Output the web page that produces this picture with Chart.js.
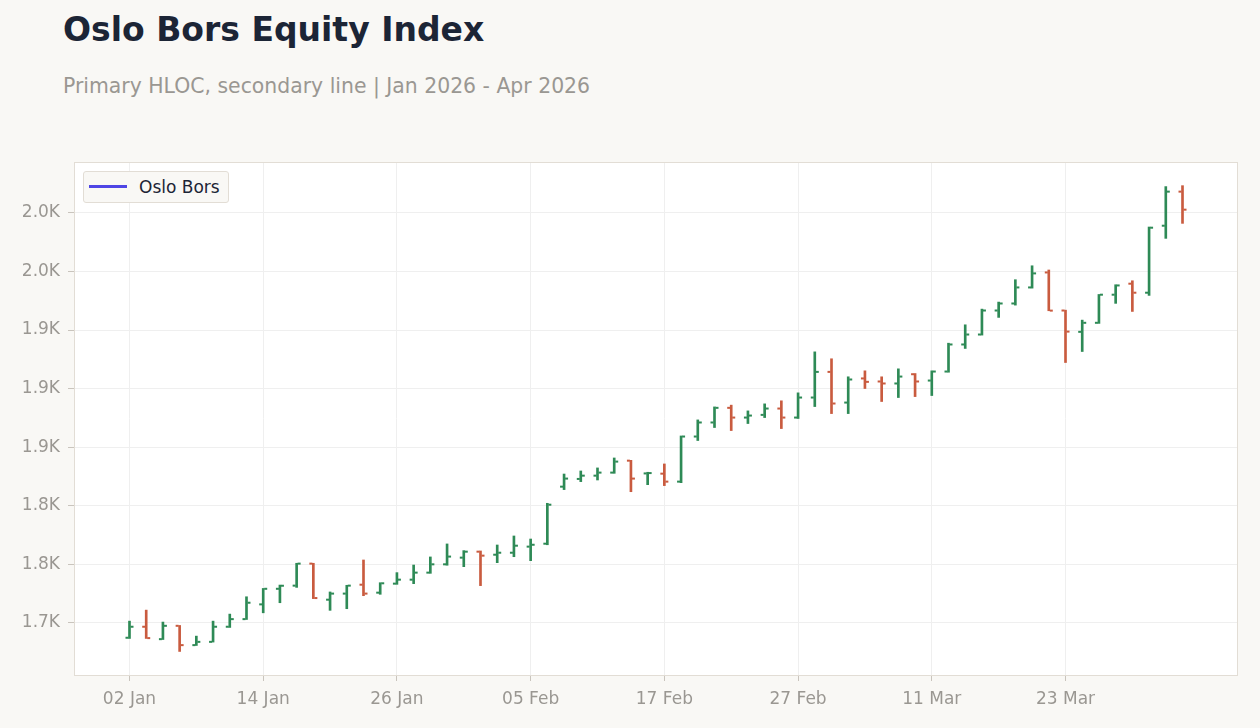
<!DOCTYPE html>
<html>
<head>
<meta charset="utf-8">
<title>Oslo Bors Equity Index</title>
<script src="https://cdn.jsdelivr.net/npm/chart.js@4.4.1/dist/chart.umd.min.js"></script>
<style>
  body { margin: 0; background: #f9f8f5; font-family: "DejaVu Sans", sans-serif; }
  #wrap { position: relative; width: 1260px; height: 728px; }
  #title { position: absolute; left: 63px; top: 10px; font-size: 33px; font-weight: bold; color: #1c2536; }
  #subtitle { position: absolute; left: 63px; top: 74px; font-size: 20.4px; color: #9a9792; }
  #legend { position: absolute; left: 83px; top: 171px; width: 146px; height: 32px; box-sizing: border-box;
            border: 1px solid #e2ddd5; border-radius: 3px; background: #f9f8f5; }
  #legend .swatch { position: absolute; left: 5px; top: 13px; width: 38px; height: 3px; background: #4f46e5; }
  #legend .label { position: absolute; left: 55px; top: 5px; font-size: 17px; color: #1c2536; }
  canvas { position: absolute; left: 0; top: 0; }
</style>
</head>
<body>
<div id="wrap">
  <div id="title">Oslo Bors Equity Index</div>
  <div id="subtitle">Primary HLOC, secondary line | Jan 2026 - Apr 2026</div>
  <canvas id="chart" width="1260" height="728"></canvas>
  <div id="legend"><div class="swatch"></div><div class="label">Oslo Bors</div></div>
</div>
<script>
// trading days, one bar each
const dates = [
  '02 Jan','05 Jan','06 Jan','07 Jan','08 Jan','09 Jan','12 Jan','13 Jan','14 Jan','15 Jan',
  '16 Jan','19 Jan','20 Jan','21 Jan','22 Jan','23 Jan','26 Jan','27 Jan','28 Jan','29 Jan',
  '30 Jan','02 Feb','03 Feb','04 Feb','05 Feb','06 Feb','09 Feb','10 Feb','11 Feb','12 Feb',
  '13 Feb','16 Feb','17 Feb','18 Feb','19 Feb','20 Feb','23 Feb','24 Feb','25 Feb','26 Feb',
  '27 Feb','02 Mar','03 Mar','04 Mar','05 Mar','06 Mar','09 Mar','10 Mar','11 Mar','12 Mar',
  '13 Mar','16 Mar','17 Mar','18 Mar','19 Mar','20 Mar','23 Mar','24 Mar','25 Mar','26 Mar',
  '27 Mar','30 Mar','31 Mar','01 Apr'
];
const opens = [
  1687.3,1696.7,1686.1,1697.5,1681.0,1683.8,1696.7,1703.2,1715.8,1729.1,
  1731.8,1750.6,1719.8,1725.0,1732.6,1725.8,1733.5,1736.9,1742.9,1750.0,
  1755.7,1760.8,1758.2,1759.9,1765.1,1767.6,1816.3,1822.9,1825.7,1828.3,
  1838.5,1827.6,1827.4,1820.6,1859.1,1871.1,1883.6,1875.3,1877.6,1883.0,
  1875.3,1892.4,1914.3,1888.1,1908.7,1906.1,1904.4,1912.3,1906.9,1914.6,
  1937.7,1946.2,1966.7,1972.7,1986.4,1999.2,1966.7,1948.5,1956.2,1980.2,
  1989.6,1981.9,2039.1,2068.2
];
const highs = [
  1701.5,1710.9,1700.7,1697.8,1688.7,1701.5,1707.5,1722.3,1729.4,1732.3,
  1750.9,1750.9,1726.4,1732.1,1753.7,1734.3,1742.9,1749.4,1756.3,1767.4,
  1761.7,1761.4,1766.5,1774.2,1771.6,1802.1,1827.1,1829.7,1832.3,1840.8,
  1838.8,1828.6,1835.7,1859.6,1873.3,1884.4,1885.9,1881.0,1887.0,1889.6,
  1896.4,1931.4,1925.5,1910.1,1915.2,1910.1,1916.9,1912.9,1915.2,1938.8,
  1954.5,1967.9,1973.9,1993.0,2004.9,2001.3,1967.0,1958.5,1980.4,1988.7,
  1992.1,2038.0,2072.5,2073.3
];
const lows = [
  1686.7,1686.7,1685.8,1675.6,1680.7,1683.6,1696.1,1702.9,1708.6,1717.2,
  1730.3,1720.7,1710.7,1712.1,1723.2,1724.4,1732.9,1733.5,1742.3,1749.2,
  1748.0,1731.8,1751.4,1756.5,1753.1,1766.7,1813.8,1820.6,1822.0,1827.7,
  1812.0,1818.0,1817.2,1819.7,1855.7,1866.8,1864.2,1870.2,1875.3,1865.9,
  1874.5,1884.7,1878.7,1878.7,1900.1,1889.0,1892.4,1893.2,1894.1,1914.0,
  1934.3,1945.7,1960.8,1971.3,1985.8,1966.5,1922.3,1931.7,1955.7,1972.8,
  1965.9,1979.6,2028.3,2041.1
];
const closes = [
  1696.7,1687.0,1697.5,1681.0,1683.8,1696.7,1703.2,1717.2,1729.1,1731.7,
  1750.6,1721.2,1725.0,1731.8,1725.0,1733.8,1736.9,1742.9,1750.0,1756.6,
  1760.8,1757.4,1759.9,1765.9,1766.7,1800.9,1823.2,1825.7,1828.3,1837.7,
  1823.2,1827.9,1820.6,1859.1,1871.1,1883.6,1875.3,1877.0,1883.0,1875.3,
  1892.4,1914.3,1887.3,1907.8,1905.8,1904.4,1910.3,1906.1,1914.6,1937.7,
  1946.2,1966.7,1972.7,1986.4,1998.4,1966.6,1948.7,1956.2,1980.2,1988.1,
  1981.9,2037.4,2068.2,2052.8
];
const xTickIdx = [0, 8, 16, 24, 32, 40, 48, 56];
const yTicks = [1700, 1750, 1800, 1850, 1900, 1950, 2000, 2050];

const UP = '#2e8a56';
const DOWN = '#c95b3f';
const barColors = closes.map((c, i) => c >= opens[i] ? UP : DOWN);

// white plot area + frame around it
const plotFrame = {
  id: 'plotFrame',
  beforeDraw(chart) {
    const { ctx, chartArea: a } = chart;
    ctx.save();
    ctx.fillStyle = '#ffffff';
    ctx.fillRect(a.left, a.top, a.width, a.height);
    ctx.restore();
  },
  afterDraw(chart) {
    const { ctx, chartArea: a } = chart;
    ctx.save();
    ctx.strokeStyle = '#e2ddd5';
    ctx.lineWidth = 1;
    ctx.strokeRect(Math.round(a.left) + 0.5, Math.round(a.top) + 0.5, Math.round(a.width) - 1, Math.round(a.height));
    ctx.restore();
  }
};

// open tick on the left, close tick on the right of each high-low bar
const ohlcTicks = {
  id: 'ohlcTicks',
  afterDatasetsDraw(chart) {
    const { ctx } = chart;
    const yScale = chart.scales.y;
    const meta = chart.getDatasetMeta(0);
    ctx.save();
    meta.data.forEach((el, i) => {
      ctx.fillStyle = barColors[i];
      const yo = yScale.getPixelForValue(opens[i]);
      const yc = yScale.getPixelForValue(closes[i]);
      ctx.fillRect(el.x - 4, yo - 1, 3, 2);
      ctx.fillRect(el.x + 1, yc - 1, 3, 2);
    });
    ctx.restore();
  }
};

const tickFont = { family: 'DejaVu Sans', size: 17 };

new Chart(document.getElementById('chart'), {
  type: 'bar',
  data: {
    datasets: [{
      label: 'Oslo Bors',
      data: dates.map((d, i) => ({ x: i, y: [lows[i], highs[i]] })),
      backgroundColor: barColors,
      borderWidth: 0,
      barThickness: 2
    }]
  },
  options: {
    responsive: false,
    animation: false,
    devicePixelRatio: 1,
    layout: { padding: { top: 162, right: 22, left: 0, bottom: 0 } },
    plugins: { legend: { display: false }, tooltip: { enabled: false } },
    scales: {
      x: {
        type: 'linear',
        offset: false,
        min: -3.32,
        max: 66.32,
        afterBuildTicks: s => { s.ticks = xTickIdx.map(v => ({ value: v })); },
        afterFit: s => { s.height = 53; },
        ticks: {
          color: '#9a9792',
          font: tickFont,
          padding: 8,
          maxRotation: 0,
          callback: v => dates[v]
        },
        grid: { offset: false, color: '#efefef', tickColor: '#c9c4bd', tickLength: 6 },
        border: { display: false }
      },
      y: {
        min: 1655.5,
        max: 2093.5,
        afterBuildTicks: s => { s.ticks = yTicks.map(v => ({ value: v })); },
        afterFit: s => { s.width = 74; },
        ticks: {
          color: '#9a9792',
          font: tickFont,
          padding: 8,
          callback: v => (v / 1000).toFixed(1) + 'K'
        },
        grid: { color: '#efefef', tickColor: '#c9c4bd', tickLength: 6 },
        border: { display: false }
      }
    }
  },
  plugins: [plotFrame, ohlcTicks]
});
</script>
</body>
</html>
